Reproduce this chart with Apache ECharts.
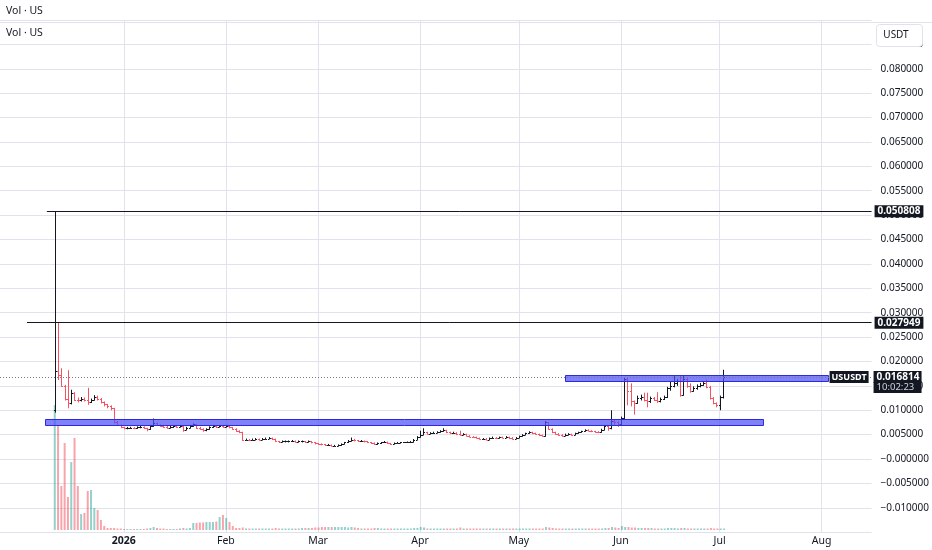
<!DOCTYPE html>
<html><head><meta charset="utf-8">
<script src="https://cdn.jsdelivr.net/npm/echarts@6/dist/echarts.min.js"></script>
<style>html,body{margin:0;padding:0;background:#fff}#c{width:932px;height:550px}</style>
</head><body><div id="c"></div>
<script>
// ---------------- data ----------------
const firstDay = '2025-12-11';   // first daily bar
const firstOpen = 0.0100;
const closes = [
  .0180,.0172,.0150,.0124,.0115,.0135,.0122,.0120,.0124,.0121,.0117,.0122,.0128,.0124,.0117,.0112,.0108,.0104,.0076,.0070,.0065,
  .0063,.0064,.0064,.0063,.0065,.0066,.0063,.0061,.0068,.0073,.0070,.0068,.0066,.0064,.0066,.0067,.0066,.0068,.0060,.0064,.0068,.0071,.0064,.0062,.0059,.0061,.0065,.0068,.0066,.0068,.0066,
  .0068,.0065,.0062,.0058,.0055,.0039,.0040,.0039,.0040,.0041,.0040,.0041,.0042,.0043,.0041,.0036,.0035,.0036,.0036,.0036,.0037,.0035,.0036,.0036,.0035,.0036,.0034,.0032,
  .0031,.0030,.0029,.0029,.0027,.0027,.0028,.0031,.0034,.0037,.0040,.0038,.0036,.0037,.0036,.0034,.0033,.0030,.0032,.0034,.0035,.0032,.0031,.0033,.0033,.0034,.0034,.0034,.0035,.0040,.0045,
  .0050,.0055,.0052,.0053,.0054,.0055,.0057,.0059,.0055,.0053,.0054,.0051,.0050,.0051,.0048,.0046,.0045,.0043,.0041,.0042,.0040,.0043,.0044,.0043,.0045,.0044,.0045,.0043,.0042,.0044,
  .0047,.0050,.0053,.0055,.0053,.0051,.0049,.0048,.0075,.0062,.0055,.0052,.0050,.0048,.0050,.0051,.0050,.0053,.0055,.0057,.0060,.0058,.0057,.0056,.0055,.0060,.0068,.0063,.0078,.0075,.0072,
  .0085,.0164,.0140,.0118,.0115,.0125,.0128,.0120,.0118,.0125,.0122,.0118,.0124,.0128,.0145,.0150,.0155,.0160,.0132,.0165,.0150,.0140,.0145,.0150,.0152,.0155,.0148,.0125,.0115,.0110,
  .0128,.016814
];
const highs = [
  .0508,.0279,.0186,.0152,.0182,.0142,.0137,.0126,.0127,.0126,.0146,.0124,.0131,.0130,.0125,.0118,.0113,.0110,.0105,.0078,.0071,
  .0066,.0066,.0066,.0065,.0067,.0068,.0067,.0064,.0070,.0083,.0075,.0071,.0070,.0068,.0068,.0069,.0069,.0070,.0069,.0066,.0070,.0073,.0072,.0066,.0063,.0063,.0067,.0070,.0069,.0070,.0070,
  .0070,.0069,.0066,.0063,.0059,.0056,.0042,.0041,.0042,.0043,.0042,.0043,.0044,.0045,.0044,.0042,.0037,.0038,.0038,.0038,.0039,.0038,.0038,.0038,.0037,.0038,.0037,.0035,
  .0033,.0032,.0031,.0031,.0030,.0029,.0030,.0032,.0035,.0039,.0044,.0041,.0039,.0039,.0038,.0037,.0035,.0034,.0034,.0035,.0037,.0036,.0033,.0034,.0035,.0035,.0035,.0036,.0037,.0041,.0047,
  .0058,.0063,.0056,.0055,.0056,.0057,.0059,.0063,.0060,.0056,.0056,.0055,.0058,.0053,.0052,.0049,.0047,.0046,.0044,.0043,.0043,.0044,.0046,.0045,.0046,.0046,.0047,.0046,.0045,.0045,
  .0048,.0051,.0054,.0057,.0056,.0054,.0052,.0050,.0078,.0076,.0063,.0056,.0053,.0051,.0052,.0053,.0052,.0054,.0056,.0058,.0061,.0061,.0059,.0058,.0057,.0062,.0070,.0069,.0100,.0080,.0077,
  .0087,.0168,.0166,.0155,.0120,.0130,.0132,.0136,.0136,.0128,.0127,.0137,.0126,.0130,.0148,.0158,.0171,.0164,.0172,.0172,.0166,.0155,.0149,.0153,.0156,.0160,.0163,.0150,.0127,.0116,
  .0130,.0183
];
const lows = [
  .0095,.0162,.0148,.0120,.0104,.0112,.0119,.0116,.0118,.0118,.0111,.0115,.0120,.0120,.0114,.0108,.0104,.0100,.0073,.0068,.0063,
  .0061,.0061,.0062,.0061,.0062,.0063,.0062,.0057,.0060,.0066,.0068,.0066,.0064,.0062,.0063,.0064,.0064,.0065,.0056,.0059,.0063,.0066,.0062,.0060,.0056,.0057,.0060,.0064,.0064,.0065,.0064,
  .0065,.0063,.0060,.0056,.0053,.0037,.0038,.0037,.0038,.0039,.0038,.0039,.0040,.0041,.0039,.0035,.0033,.0034,.0034,.0034,.0035,.0034,.0034,.0034,.0033,.0034,.0032,.0030,
  .0029,.0028,.0027,.0027,.0026,.0026,.0026,.0027,.0030,.0033,.0036,.0036,.0035,.0035,.0034,.0033,.0031,.0029,.0029,.0031,.0033,.0031,.0029,.0030,.0032,.0032,.0033,.0033,.0033,.0034,.0039,
  .0044,.0049,.0050,.0051,.0052,.0053,.0054,.0056,.0053,.0051,.0052,.0049,.0048,.0049,.0047,.0045,.0044,.0042,.0040,.0040,.0039,.0039,.0042,.0041,.0042,.0043,.0043,.0041,.0040,.0041,
  .0043,.0046,.0049,.0052,.0051,.0050,.0047,.0046,.0046,.0060,.0053,.0050,.0048,.0046,.0047,.0049,.0048,.0049,.0052,.0054,.0056,.0057,.0055,.0054,.0053,.0054,.0059,.0058,.0061,.0070,.0066,
  .0069,.0082,.0110,.0108,.0091,.0113,.0120,.0118,.0106,.0115,.0119,.0115,.0116,.0121,.0125,.0140,.0147,.0150,.0128,.0130,.0146,.0136,.0138,.0142,.0147,.0150,.0145,.0122,.0112,.0106,
  .0100,.0124
];
const volumes = [
  125,105,44,87,33,68,92,44,16,17,39,40,22,20,10,4,2,2,2,1.5,1.5,
  1,1,1,1,1,1,1,1.5,2,3,2,1.5,1.5,1,1,1,1,1.5,2,1.5,2,7,7,7.5,7.5,8,8,8,8.5,13,15,
  12,8,4,2,2,2.5,1.5,1.5,1.5,1.5,1.5,1.5,1.5,1.5,1.5,2,1.5,1.5,1.5,1.5,1.5,1.5,1.5,2,2,2,2,2.5,
  2.5,3,3,3,3,3,3,3,3,2.5,3,2.5,2,1.5,1.5,1.5,1.5,2,2,1.5,1.5,1.5,1.5,1.5,1.5,1.5,1.5,1.5,1.5,2,2,
  3,2.5,1.5,1.5,1.5,1.5,1.5,1.5,1.5,1.5,1.5,1.5,2.5,1.5,1.5,1.5,1.5,1.5,1.5,1.5,1.5,1.5,1.5,1.5,1.5,1.5,1.5,1.5,1.5,1.5,
  1.5,1.5,1.5,1.5,1.5,1.5,1.5,1.5,3,2.5,2,1.5,1.5,1.5,1.5,1.5,1.5,1.5,1.5,1.5,1.5,1.5,1.5,1.5,1.5,1.5,2,2,3,2.5,2,
  4,3,3,2.5,2.5,2,2,2,2,2,1.5,1.5,1.5,1.5,2,2,2,1.5,2,2,1.5,1.5,1.5,1.5,1.5,1.5,1.5,2,1.5,1.5,
  1.5,1.5
];
const monthTicks = ['2026-01-01','2026-02-01','2026-03-01','2026-04-01','2026-05-01','2026-06-01','2026-07-01','2026-08-01'];
const monthLabels = ['2026','Feb','Mar','Apr','May','Jun','Jul','Aug'];
const rayLevels = [0.050808, 0.027949];
const rayStarts = ['2025-12-08T15:00', '2025-12-02T14:00'];
const lastPrice = 0.016814;
const countdown = '10:02:23';
const symbolName = 'USUSDT';
const zoneStarts = ['2026-05-15', '2025-12-08'];
const zoneEnds   = ['2026-08-03', '2026-07-14'];
const zoneLows   = [0.0160, 0.0070];
const zoneHighs  = [0.0172, 0.0082];

// ---------------- build ----------------
const DAY = 864e5;
function utc(s){ const d = new Date(s + (s.length === 10 ? 'T00:00:00Z' : ':00Z')); return d.getTime(); }
const t0 = utc(firstDay);
const jan1 = utc('2026-01-01');
const pxPerDay = 3.2972;
const xMin = jan1 - 124 / pxPerDay * DAY;
const xMax = jan1 + (873 - 124) / pxPerDay * DAY;
const Y_MIN = -0.015, Y_MAX = 0.09, GRID_H = 512.2;
const pricePerPx = (Y_MAX - Y_MIN) / GRID_H;

const ohlc = [], vol = [];
const UP = '#131722', DOWN = '#f7525f';
for (let i = 0; i < closes.length; i++) {
  const t = t0 + i * DAY;
  const o = i === 0 ? firstOpen : closes[i - 1];
  ohlc.push([t, o, closes[i], lows[i], highs[i]]);
  const up = closes[i] >= o;
  vol.push({ value: [t, volumes[i]], itemStyle: { color: up ? 'rgba(38,166,154,0.5)' : 'rgba(242,54,69,0.45)' } });
}
const monthTs = monthTicks.map(utc);
const zones = zoneStarts.map((s, i) => [utc(s), utc(zoneEnds[i]), zoneLows[i], zoneHighs[i]]);

const FONT = 'Noto Sans';
const TXT = '#131722';
function fmtPrice(v){
  if (Math.abs(v) < 1e-12) return '\u22120.000000';
  return v < 0 ? '\u2212' + (-v).toFixed(6) : v.toFixed(6);
}
const hidden = { width: 1, color: 'rgba(0,0,0,0)' };

const markLines = rayLevels.map((lv, i) => [
  { coord: [utc(rayStarts[i]), lv],
    lineStyle: { color: '#131722', width: 1, type: 'solid' },
    label: { show: true, position: 'end', distance: 3, formatter: lv.toFixed(6),
      backgroundColor: '#131722', color: '#fff', fontWeight: 'bold', fontSize: 10, fontFamily: FONT,
      padding: [1, 3, 0, 3], lineHeight: 11 } },
  { coord: [xMax, lv] }
]);
// last price dotted line + its axis tag
markLines.push([
  { coord: [xMin, lastPrice],
    lineStyle: { color: '#787b86', width: 1, type: [1, 2] },
    label: { show: true, position: 'end', distance: 2, formatter: lastPrice.toFixed(6), width: 42,
      backgroundColor: '#131722', color: '#fff', fontWeight: 'bold', fontSize: 10, fontFamily: FONT,
      padding: [1, 3, 0, 3], lineHeight: 11 } },
  { coord: [xMax, lastPrice] }
]);
// countdown line of the tag, one text row below
markLines.push([
  { coord: [xMin, lastPrice - 10.5 * pricePerPx],
    lineStyle: hidden,
    label: { show: true, position: 'end', distance: 2, formatter: countdown, width: 42,
      backgroundColor: '#131722', color: '#d1d4dc', fontSize: 9.5, fontFamily: FONT,
      padding: [0, 3, 1, 3], lineHeight: 10 } },
  { coord: [xMax, lastPrice - 10.5 * pricePerPx] }
]);
// symbol tag
markLines.push([
  { coord: [xMin, lastPrice],
    lineStyle: hidden,
    label: { show: true, position: 'insideEnd', distance: 0, formatter: symbolName,
      backgroundColor: '#131722', color: '#fff', fontWeight: 'bold', fontSize: 9, fontFamily: FONT,
      padding: [1, 2, 0, 2], lineHeight: 11 } },
  { coord: [xMax - 0.9 * DAY, lastPrice] }
]);

const chart = echarts.init(document.getElementById('c'), null, { renderer: 'canvas' });
chart.setOption({
  animation: false,
  backgroundColor: '#fff',
  textStyle: { fontFamily: FONT },
  grid: [
    { left: 0, right: 59, top: 20, height: GRID_H },
    { left: 0, right: 59, top: 400, height: 130 }
  ],
  xAxis: [
    { type: 'value', gridIndex: 0, min: xMin, max: xMax, scale: true,
      axisLine: { show: false }, axisTick: { show: false, customValues: monthTs },
      splitLine: { show: true, lineStyle: { color: '#e0e3eb', width: 1 } },
      axisLabel: { show: true, customValues: monthTs, margin: 3, color: TXT, fontSize: 10.5, fontFamily: FONT,
        formatter: function (v) {
          let k = -1;
          for (let j = 0; j < monthTs.length; j++) if (Math.abs(monthTs[j] - v) < 1000) k = j;
          const s = k >= 0 ? monthLabels[k] : '';
          return k === 0 ? '{b|' + s + '}' : '{n|' + s + '}';
        },
        rich: { b: { fontWeight: 'bold', color: TXT, fontSize: 10.5, fontFamily: FONT },
                n: { color: TXT, fontSize: 10.5, fontFamily: FONT } } } },
    { type: 'value', gridIndex: 1, min: xMin, max: xMax, scale: true, show: false, splitLine: { show: false } }
  ],
  yAxis: [
    { type: 'value', gridIndex: 0, position: 'right', min: Y_MIN, max: Y_MAX, interval: 0.005,
      axisLine: { show: false }, axisTick: { show: false },
      splitLine: { show: true, lineStyle: { color: '#e0e3eb', width: 1 } },
      axisLabel: { margin: 9, color: TXT, fontSize: 10, fontFamily: FONT, showMaxLabel: false, showMinLabel: false,
        formatter: fmtPrice } },
    { type: 'value', gridIndex: 1, min: 0, max: 130, show: false, splitLine: { show: false } }
  ],
  series: [
    { type: 'bar', name: 'Vol', xAxisIndex: 1, yAxisIndex: 1, data: vol, barWidth: 2, z: 1, silent: true },
    { type: 'custom', name: 'US', xAxisIndex: 0, yAxisIndex: 0, data: ohlc, z: 2, silent: true,
      encode: { x: 0, y: [1, 2, 3, 4] },
      renderItem: function (params, api) {
        const t = api.value(0);
        const o = api.coord([t, api.value(1)]);
        const c = api.coord([t, api.value(2)]);
        const l = api.coord([t, api.value(3)]);
        const h = api.coord([t, api.value(4)]);
        const color = api.value(2) >= api.value(1) ? UP : DOWN;
        const x = Math.round(h[0]) + 0.5;
        const tw = 1.5;
        const st = { stroke: color, lineWidth: 1 };
        return { type: 'group', children: [
          { type: 'line', shape: { x1: x, y1: h[1], x2: x, y2: l[1] }, style: st },
          { type: 'line', shape: { x1: x - tw, y1: Math.round(o[1]) + 0.5, x2: x, y2: Math.round(o[1]) + 0.5 }, style: st },
          { type: 'line', shape: { x1: x, y1: Math.round(c[1]) + 0.5, x2: x + tw, y2: Math.round(c[1]) + 0.5 }, style: st }
        ] };
      } },
    { type: 'custom', name: 'zones', xAxisIndex: 0, yAxisIndex: 0, data: zones, z: 3, silent: true, clip: false,
      encode: { x: [0, 1], y: [2, 3] },
      renderItem: function (params, api) {
        const a = api.coord([api.value(0), api.value(3)]);
        const b = api.coord([api.value(1), api.value(2)]);
        return { type: 'rect', shape: { x: Math.round(a[0]) + 0.5, y: Math.round(a[1]) + 0.5,
                 width: Math.round(b[0] - a[0]), height: Math.round(b[1] - a[1]) },
                 style: { fill: 'rgba(80,80,245,0.72)', stroke: '#2a2ae6', lineWidth: 1 } };
      },
      markLine: { silent: true, symbol: ['none', 'none'], animation: false, data: markLines } }
  ],
  graphic: [
    { type: 'line', shape: { x1: 0, y1: 22.5, x2: 932, y2: 22.5 }, style: { stroke: '#e0e3eb', lineWidth: 1 }, z: 50 },
    { type: 'text', left: 6, top: 6, style: { text: 'Vol \u00b7 US', fill: TXT, font: '10.5px "Noto Sans"' }, z: 50 },
    { type: 'text', left: 6, top: 28, style: { text: 'Vol \u00b7 US', fill: TXT, font: '10.5px "Noto Sans"' }, z: 50 },
    { type: 'rect', shape: { x: 876.5, y: 24.5, width: 46, height: 22, r: 3 }, style: { fill: '#fff', stroke: '#e0e3eb', lineWidth: 1 }, z: 50 },
    { type: 'text', x: 896, y: 35.5, style: { text: 'USDT', fill: TXT, font: '10px "Noto Sans"', textAlign: 'center', textVerticalAlign: 'middle' }, z: 51 }
  ]
});
</script></body></html>
